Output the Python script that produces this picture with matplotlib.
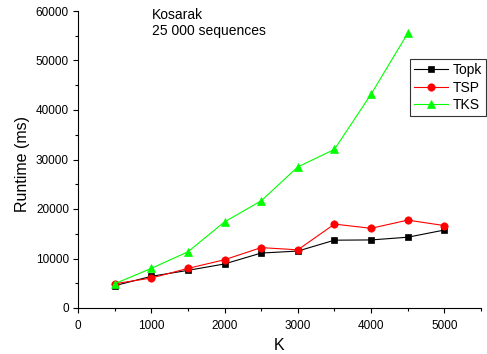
import matplotlib
matplotlib.use("Agg")
import matplotlib.pyplot as plt
from matplotlib.ticker import MultipleLocator

plt.rcParams['font.family'] = ['Liberation Sans', 'DejaVu Sans']

k_values = [500, 1000, 1500, 2000, 2500, 3000, 3500, 4000, 4500, 5000]
topk = [4500, 6400, 7600, 8900, 11100, 11500, 13700, 13750, 14300, 15750]
tsp = [4900, 6050, 8000, 9750, 12200, 11750, 16950, 16100, 17750, 16650]
tks_k = [500, 1000, 1500, 2000, 2500, 3000, 3500, 4000, 4500]
tks = [4900, 8000, 11350, 17400, 21650, 28500, 32050, 43200, 55500]

fig = plt.figure(figsize=(4.87, 3.54), dpi=100)
ax = fig.add_axes([78 / 487, 1 - 308 / 354, (481 - 78) / 487, (308 - 11) / 354])

ax.plot(k_values, topk, color='black', marker='s', markersize=4.6,
        markeredgewidth=0.5, lw=0.8, label='Topk')
ax.plot(k_values, tsp, color='red', marker='o', markersize=5.3,
        markeredgewidth=0.5, lw=0.8, label='TSP')
ax.plot(tks_k, tks, color='#00ff00', marker='^', markersize=5.8,
        markeredgewidth=0.5, lw=0.8, label='TKS')

ax.set_xlim(0, 5500)
ax.set_ylim(0, 60000)
ax.xaxis.set_major_locator(MultipleLocator(1000))
ax.xaxis.set_minor_locator(MultipleLocator(500))
ax.yaxis.set_major_locator(MultipleLocator(10000))
ax.yaxis.set_minor_locator(MultipleLocator(5000))
ax.spines['top'].set_visible(False)
ax.spines['right'].set_visible(False)
ax.spines['left'].set_linewidth(0.8)
ax.spines['bottom'].set_linewidth(0.8)
ax.tick_params(which='major', length=3.5, width=0.8, labelsize=8.5)
ax.tick_params(axis='x', which='major', pad=4.8)
ax.tick_params(axis='y', which='major', pad=3)
ax.tick_params(which='minor', length=2, width=0.8)

ax.set_xlabel('K', fontsize=11.5, labelpad=5)
ax.set_ylabel('Runtime (ms)', fontsize=11.5, labelpad=4)
ax.yaxis.label.set_y(0.485)

ax.text(0.184, 1.01, 'Kosarak\n25 000 sequences', transform=ax.transAxes,
        fontsize=10, va='top', ha='left', linespacing=1.2)

leg = ax.legend(loc='upper right', bbox_to_anchor=(1.012, 0.838), fontsize=10,
                frameon=True, fancybox=False, edgecolor='black',
                handlelength=2.45, handletextpad=0.3, borderpad=0.3,
                labelspacing=0.25, borderaxespad=0)
leg.get_frame().set_linewidth(0.8)

fig.savefig('out.png', dpi=100)
